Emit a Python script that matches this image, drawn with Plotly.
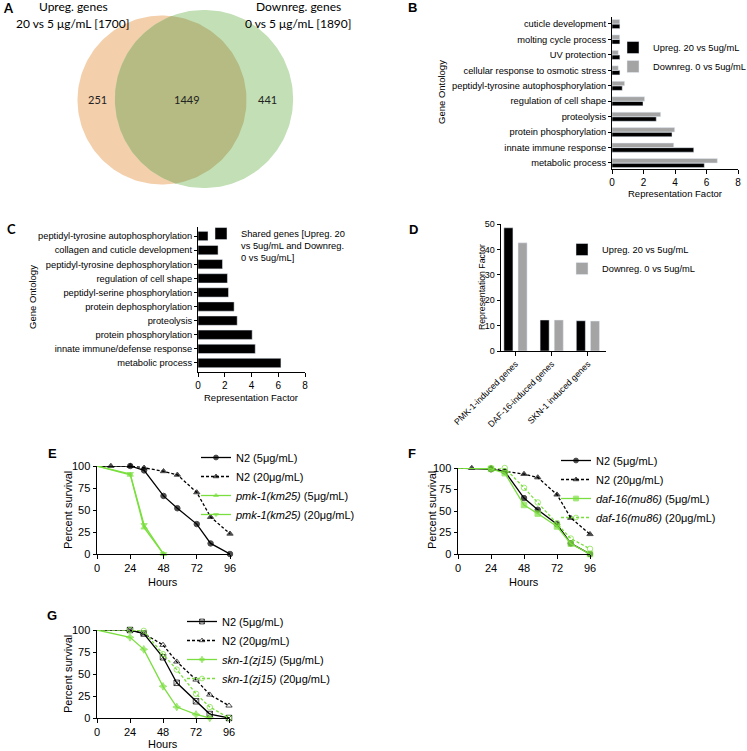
import numpy as np
import plotly.graph_objects as go

W, H = 747, 751
F = "Liberation Sans"
GREEN = "#7ADF3E"
GRAY = "#A4A4A4"

# ---------------- data ----------------
venn_up_total = 1700
venn_down_total = 1890
venn_up_only = 251
venn_shared = 1449
venn_down_only = 441

b_terms = ["cuticle development", "molting cycle process", "UV protection",
           "cellular response to osmotic stress", "peptidyl-tyrosine autophosphorylation",
           "regulation of cell shape", "proteolysis", "protein phosphorylation",
           "innate immune response", "metabolic process"]
b_up = [0.5, 0.5, 0.5, 0.5, 0.65, 1.97, 2.81, 3.81, 5.19, 5.86]
b_down = [0.49, 0.49, 0.4, 0.4, 0.8, 2.07, 3.09, 3.98, 3.92, 6.69]

c_terms = ["peptidyl-tyrosine autophosphorylation", "collagen and cuticle development",
           "peptidyl-tyrosine dephosphorylation", "regulation of cell shape",
           "peptidyl-serine phosphorylation", "protein dephosphorylation", "proteolysis",
           "protein phosphorylation", "innate immune/defense response", "metabolic process"]
c_vals = [0.75, 1.5, 1.83, 2.2, 2.28, 2.7, 2.93, 4.05, 4.28, 6.2]

d_cats = ["PMK-1-induced genes", "DAF-16-induced genes", "SKN-1 induced genes"]
d_up = [48.5, 12.2, 11.9]
d_down = [42.6, 12.2, 11.8]

e_t_n2_5 = [0, 24, 34, 48, 58, 72, 82, 96]
e_n2_5 = [100, 100, 95, 66, 52, 34, 12, 0]
e_t_n2_20 = [0, 10, 24, 34, 48, 58, 72, 82, 96]
e_n2_20 = [100, 100, 100, 98, 94, 90, 70, 42, 23]
e_t_pmk = [0, 24, 34, 48]
e_pmk_5 = [100, 90, 30, 0]
e_pmk_20 = [100, 91, 33, 0]

f_t_n2_5 = [0, 24, 34, 48, 58, 72, 82, 96]
f_n2_5 = [100, 98.5, 96, 65, 51.5, 34.6, 12.4, 0]
f_t_n2_20 = [0, 10, 24, 34, 48, 58, 72, 82, 96]
f_n2_20 = [100, 100, 100, 96, 93, 89, 69, 42, 23]
f_t_daf = [0, 24, 34, 48, 58, 72, 82, 96]
f_daf_5 = [100, 99, 94, 57, 47, 32, 12, 0]
f_daf_20 = [100, 100, 100, 77, 60, 36, 18, 6]

g_t = [0, 24, 34, 48, 58, 72, 82, 96]
g_n2_5 = [100, 100, 96, 69, 40, 19, 4.5, 0]
g_n2_20 = [100, 100, 96, 83, 64, 43.5, 26.5, 14]
g_t_skn_5 = [0, 24, 34, 48, 58, 72, 82]
g_skn_5 = [100, 91.7, 78, 36, 12.5, 4, 0]
g_skn_20 = [100, 100, 99, 72.5, 55, 27.5, 12.5, 0]


def X(px):
    return px / W


def Y(py):
    return 1 - py / H


fig = go.Figure()

# ---------------- Panel A: Venn ----------------
k = 2.05
r1 = k * np.sqrt(venn_up_total)
r2 = k * np.sqrt(venn_down_total)
c1 = np.array([162.0, 100.0])
c2 = np.array([204.0, 99.0])


def circ(c, r, a0=0, a1=2 * np.pi, n=200):
    t = np.linspace(a0, a1, n)
    return c[0] + r * np.cos(t), c[1] + r * np.sin(t)


x1, y1 = circ(c1, r1)
x2, y2 = circ(c2, r2)
fig.add_trace(go.Scatter(x=x1, y=y1, fill="toself", fillcolor="#F3CFAB", mode="lines",
                         line=dict(width=0), showlegend=False, hoverinfo="skip", xaxis="x", yaxis="y"))
fig.add_trace(go.Scatter(x=x2, y=y2, fill="toself", fillcolor="#C2DFB5", mode="lines",
                         line=dict(width=0), showlegend=False, hoverinfo="skip", xaxis="x", yaxis="y"))
d = np.linalg.norm(c2 - c1)
phi = np.arctan2(c2[1] - c1[1], c2[0] - c1[0])
a = (d ** 2 + r1 ** 2 - r2 ** 2) / (2 * d)
h = np.sqrt(r1 ** 2 - a ** 2)
t1 = np.arctan2(h, a)
t2 = np.arctan2(h, d - a)
lx1, ly1 = circ(c1, r1, phi - t1, phi + t1, 100)
lx2, ly2 = circ(c2, r2, phi + np.pi - t2, phi + np.pi + t2, 100)
fig.add_trace(go.Scatter(x=np.concatenate([lx1, lx2]), y=np.concatenate([ly1, ly2]),
                         fill="toself", fillcolor="#B5BB82", mode="lines", line=dict(width=0),
                         showlegend=False, hoverinfo="skip", xaxis="x", yaxis="y"))

ann = []


def txt(x, y, s, size=10, bold=False, family=F, angle=0, xanchor="center", color="black"):
    ann.append(dict(x=X(x), y=Y(y), xref="paper", yref="paper", text=("<b>%s</b>" % s) if bold else s,
                    showarrow=False, textangle=angle, xanchor=xanchor, yanchor="middle",
                    font=dict(family=family, size=size, color=color)))


txt(73, 7, "Upreg. genes", 12, family="Lato")
txt(72, 23, "20 vs 5 μg/mL [%d]" % venn_up_total, 12, family="Lato")
txt(298, 7, "Downreg. genes", 12, family="Lato")
txt(298, 23, "0 vs 5 μg/mL [%d]" % venn_down_total, 12, family="Lato")
txt(97, 99, str(venn_up_only), 11, family="Lato", color="#222")
txt(187, 99, str(venn_shared), 11, family="Lato", color="#222")
txt(267, 99, str(venn_down_only), 11, family="Lato", color="#222")

# panel letters
txt(8, 8, "A", 13, True, family="Lato")
txt(412, 8, "B", 13, True)
txt(11, 229, "C", 13, True, family="Lato")
txt(413, 229, "D", 13, True)
txt(52, 453, "E", 13, True)
txt(412, 453, "F", 13, True)
txt(52, 615, "G", 13, True)

# ---------------- Panel B ----------------
fig.add_trace(go.Bar(y=b_terms, x=b_up, orientation="h", marker_color="black", width=0.29, offset=-0.3,
                     name="Upreg. 20 vs 5ug/mL", xaxis="x2", yaxis="y2", legend="legend"))
fig.add_trace(go.Bar(y=b_terms, x=b_down, orientation="h", marker_color=GRAY, width=0.29, offset=0.0,
                     name="Downreg. 0 vs 5ug/mL", xaxis="x2", yaxis="y2", legend="legend"))
txt(441, 92, "Gene Ontology", 9.5, angle=-90)
txt(675, 193, "Representation Factor", 9.5)

# ---------------- Panel C ----------------
fig.add_trace(go.Bar(y=c_terms, x=c_vals, orientation="h", marker_color="black", width=0.66,
                     name="Shared genes [Upreg. 20<br>vs 5ug/mL and Downreg.<br>0 vs 5ug/mL]",
                     xaxis="x3", yaxis="y3", legend="legend3"))
txt(32, 297, "Gene Ontology", 9.5, angle=-90)
txt(251, 397, "Representation Factor", 9.5)

# ---------------- Panel D ----------------
fig.add_trace(go.Bar(x=d_cats, y=d_up, marker_color="black", width=0.25, offset=-0.32,
                     name="Upreg. 20 vs 5ug/mL", xaxis="x4", yaxis="y4", legend="legend2"))
fig.add_trace(go.Bar(x=d_cats, y=d_down, marker_color=GRAY, width=0.25, offset=0.07,
                     name="Downreg. 0 vs 5ug/mL", xaxis="x4", yaxis="y4", legend="legend2"))
txt(482, 287, "Representation Factor", 8.7, angle=-90)


# ---------------- Survival panels ----------------
def surv(xs, ys, name, color, symbol, dash, ax, leg):
    sizes = [0 if t == 0 else 5.5 for t in xs]
    mk = dict(symbol=symbol, size=sizes, color=color, line=dict(color=color, width=1))
    fig.add_trace(go.Scatter(x=xs, y=ys, mode="lines+markers", name=name,
                             line=dict(color=color, width=1.3, dash=dash), marker=mk,
                             cliponaxis=False, xaxis="x" + ax, yaxis="y" + ax, legend=leg))


DASH = "3px,2px"
surv(e_t_n2_5, e_n2_5, "N2 (5μg/mL)", "black", "circle", "solid", "5", "legend4")
surv(e_t_n2_20, e_n2_20, "N2 (20μg/mL)", "black", "triangle-up", DASH, "5", "legend4")
surv(e_t_pmk, e_pmk_5, "<i>pmk-1(km25)</i> (5μg/mL)", GREEN, "triangle-up", "solid", "5", "legend4")
surv(e_t_pmk, e_pmk_20, "<i>pmk-1(km25)</i> (20μg/mL)", GREEN, "triangle-down", "solid", "5", "legend4")

surv(f_t_n2_5, f_n2_5, "N2 (5μg/mL)", "black", "circle", "solid", "6", "legend5")
surv(f_t_n2_20, f_n2_20, "N2 (20μg/mL)", "black", "triangle-up", DASH, "6", "legend5")
surv(f_t_daf, f_daf_5, "<i>daf-16(mu86)</i> (5μg/mL)", GREEN, "square", "solid", "6", "legend5")
surv(f_t_daf, f_daf_20, "<i>daf-16(mu86)</i> (20μg/mL)", GREEN, "circle-open", DASH, "6", "legend5")

surv(g_t, g_n2_5, "N2 (5μg/mL)", "black", "square-x-open", "solid", "7", "legend6")
surv(g_t, g_n2_20, "N2 (20μg/mL)", "black", "triangle-up-open", DASH, "7", "legend6")
surv(g_t_skn_5, g_skn_5, "<i>skn-1(zj15)</i> (5μg/mL)", GREEN, "star-diamond", "solid", "7", "legend6")
surv(g_t, g_skn_20, "<i>skn-1(zj15)</i> (20μg/mL)", GREEN, "circle-open", DASH, "7", "legend6")

for (px, py) in [(68, 510), (432, 510), (68, 674)]:
    txt(px, py, "Percent survival", 11, angle=-90)
for (px, py) in [(163, 582), (524, 582), (163, 744)]:
    txt(px, py, "Hours", 11)


# ---------------- axes ----------------
def axis(x0, x1, horizontal=True, **kw):
    base = dict(showline=True, linecolor="black", linewidth=1, ticks="outside", ticklen=3.5,
                tickwidth=1, tickcolor="black", showgrid=False, zeroline=False,
                tickfont=dict(family=F, size=10, color="black"))
    if horizontal:
        base["domain"] = [X(x0), X(x1)]
    else:
        base["domain"] = [Y(x1), Y(x0)]
    base.update(kw)
    return base


lay = dict(
    width=W, height=H, margin=dict(l=0, r=0, t=0, b=0, autoexpand=False),
    paper_bgcolor="white", plot_bgcolor="white",
    showlegend=True, annotations=ann,
    xaxis=dict(domain=[0, X(370)], range=[0, 370], visible=False),
    yaxis=dict(domain=[Y(190), 1], range=[190, 0], visible=False),
    xaxis2=axis(612, 738, anchor="y2", range=[0, 8], dtick=2),
    yaxis2=axis(17, 169, False, anchor="x2", type="category", categoryorder="array",
                categoryarray=b_terms[::-1], range=[-0.39, 9.45], ticklen=3,
                tickfont=dict(family=F, size=9.3, color="black")),
    xaxis3=axis(198, 305, anchor="y3", range=[0, 8], dtick=2),
    yaxis3=axis(227, 372, False, anchor="x3", type="category", categoryorder="array",
                categoryarray=c_terms[::-1], range=[-0.64, 9.64], ticklen=3,
                tickfont=dict(family=F, size=9.3, color="black")),
    xaxis4=axis(501, 606, anchor="y4", type="category", range=[-0.4, 2.5], tickangle=-45,
                tickfont=dict(family=F, size=8.7, color="black")),
    yaxis4=axis(224, 351, False, anchor="x4", range=[0, 50], dtick=10,
                tickfont=dict(family=F, size=9, color="black")),
    xaxis5=axis(97, 230, anchor="y5", range=[0, 96], tickvals=[0, 24, 48, 72, 96],
                tickfont=dict(family=F, size=11, color="black")),
    yaxis5=axis(466, 554, False, anchor="x5", range=[0, 100], tickvals=[0, 25, 50, 75, 100],
                tickfont=dict(family=F, size=11, color="black")),
    xaxis6=axis(458, 590, anchor="y6", range=[0, 96], tickvals=[0, 24, 48, 72, 96],
                tickfont=dict(family=F, size=11, color="black")),
    yaxis6=axis(468, 554, False, anchor="x6", range=[0, 100], tickvals=[0, 25, 50, 75, 100],
                tickfont=dict(family=F, size=11, color="black")),
    xaxis7=axis(97, 229, anchor="y7", range=[0, 96], tickvals=[0, 24, 48, 72, 96],
                tickfont=dict(family=F, size=11, color="black")),
    yaxis7=axis(630, 718, False, anchor="x7", range=[0, 100], tickvals=[0, 25, 50, 75, 100],
                tickfont=dict(family=F, size=11, color="black")),
)


def leg(text_x, top_y, size):
    return dict(x=X(text_x - 40), y=Y(top_y), xanchor="left", yanchor="top", bgcolor="rgba(0,0,0,0)",
                font=dict(family=F, size=size, color="black"), traceorder="normal",
                itemwidth=30, tracegroupgap=0)


lay["legend"] = leg(653, 33, 9.3)
lay["legend2"] = leg(602, 235, 9.3)
lay["legend3"] = dict(leg(241, 221, 9.3), valign="top")
lay["legend4"] = leg(236, 443, 11)
lay["legend5"] = leg(596, 446, 11)
lay["legend6"] = leg(222, 607, 11)

fig.update_layout(**lay)
fig.write_html("out.html", config={"displayModeBar": False},
               post_script="document.body.style.margin='0px';document.body.style.overflow='hidden';")
